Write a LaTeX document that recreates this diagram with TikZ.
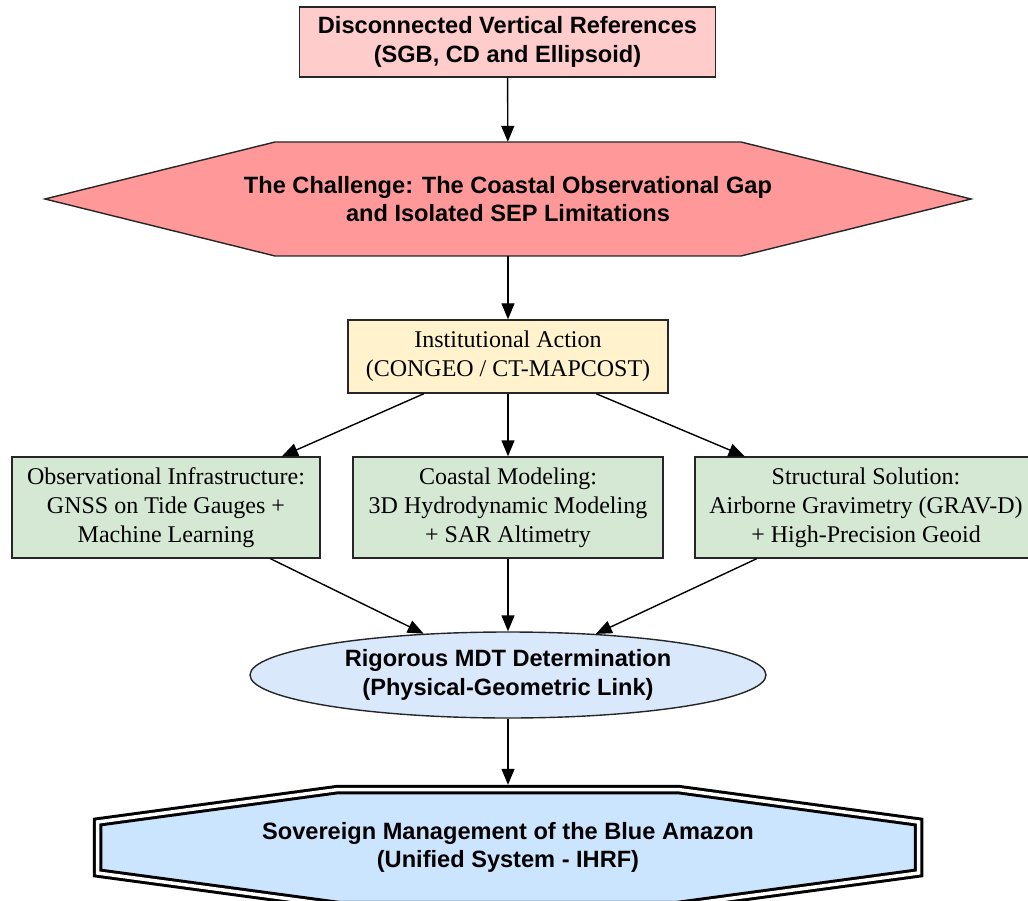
\documentclass[tikz,border=0pt]{standalone}
\usepackage{fontspec}
\setmainfont{Liberation Serif}
\newfontfamily\hvfont{Liberation Sans}
\usetikzlibrary{arrows.meta,shapes.geometric,calc,backgrounds}
\definecolor{pinkA}{HTML}{FFCCCC}
\definecolor{salmonA}{HTML}{FF9999}
\definecolor{yellowA}{HTML}{FFF2CC}
\definecolor{greenA}{HTML}{D5E8D4}
\definecolor{blueE}{HTML}{DAE8FC}
\definecolor{blueO}{HTML}{CCE5FF}
\begin{document}
\begin{tikzpicture}[x=1pt,y=-1pt,
  base/.style={inner sep=0pt, align=center, line width=1.4pt, draw=black!85},
  plain/.style={inner sep=0pt, align=center},
  sansbold/.style={font=\hvfont\bfseries\fontsize{23.6}{28.5}\selectfont},
  serif/.style={font=\fontsize{24}{29}\selectfont},
  arr/.style={line width=1.4pt, black, -{Triangle[length=16pt,width=13pt]}},
]
\useasboundingbox (0,0) rectangle (1028,901);
\clip (0,0) rectangle (1028,901);

\node[base, sansbold, fill=pinkA, minimum width=416pt, minimum height=70pt] (refs) at (507.5,42)
  {Disconnected Vertical References\\(SGB, CD and Ellipsoid)};
\node[plain, sansbold, minimum height=114pt] (chal) at (508,199)
  {The Challenge: The Coastal Observational Gap\\and Isolated SEP Limitations};
\node[base, serif, fill=yellowA, minimum width=320pt, minimum height=73pt] (inst) at (508,356.5)
  {Institutional Action\\(CONGEO / CT-MAPCOST)};
\node[base, serif, fill=greenA, minimum width=308pt, minimum height=101pt] (obs) at (166,507.5)
  {Observational Infrastructure:\\GNSS on Tide Gauges +\\Machine Learning};
\node[base, serif, fill=greenA, minimum width=310pt, minimum height=101pt] (coast) at (508,507.5)
  {Coastal Modeling:\\3D Hydrodynamic Modeling\\+ SAR Altimetry};
\node[base, serif, fill=greenA, minimum width=342pt, minimum height=101pt] (struct) at (866,507.5)
  {Structural Solution:\\Airborne Gravimetry (GRAV-D)\\+ High-Precision Geoid};
\node[base, ellipse, sansbold, fill=blueE, minimum width=516pt, minimum height=86pt] (mdt) at (508,675)
  {Rigorous MDT Determination\\(Physical-Geometric Link)};
\node[plain, sansbold, minimum height=125pt] (sov) at (508,847.5)
  {Sovereign Management of the Blue Amazon\\(Unified System - IHRF)};

\begin{pgfonlayer}{background}
\clip (0,0) rectangle (1028,901);
\draw[line width=1.4pt, draw=black!85, fill=salmonA]
  ($(chal)+(-233,-57)$) -- ($(chal)+(233,-57)$) -- ($(chal)+(463,0)$) --
  ($(chal)+(233,57)$) -- ($(chal)+(-233,57)$) -- ($(chal)+(-463,0)$) -- cycle;
\draw[line width=3pt, draw=black, double=white, double distance=3.5pt, fill=blueO]
  ($(sov)+(-170,-58)$) -- ($(sov)+(170,-58)$) -- ($(sov)+(410.5,-25.5)$) --
  ($(sov)+(410.5,25.5)$) -- ($(sov)+(170,58)$) -- ($(sov)+(-170,58)$) --
  ($(sov)+(-410.5,25.5)$) -- ($(sov)+(-410.5,-25.5)$) -- cycle;
\end{pgfonlayer}

\draw[arr] (refs) -- (chal);
\draw[arr] (chal) -- (inst);
\draw[arr] (inst) -- (obs);
\draw[arr] (inst) -- (coast);
\draw[arr] (inst) -- (struct);
\draw[arr] (obs) -- (mdt);
\draw[arr] (coast) -- (mdt);
\draw[arr] (struct) -- (mdt);
\draw[arr] (mdt) -- (sov);
\end{tikzpicture}
\end{document}
